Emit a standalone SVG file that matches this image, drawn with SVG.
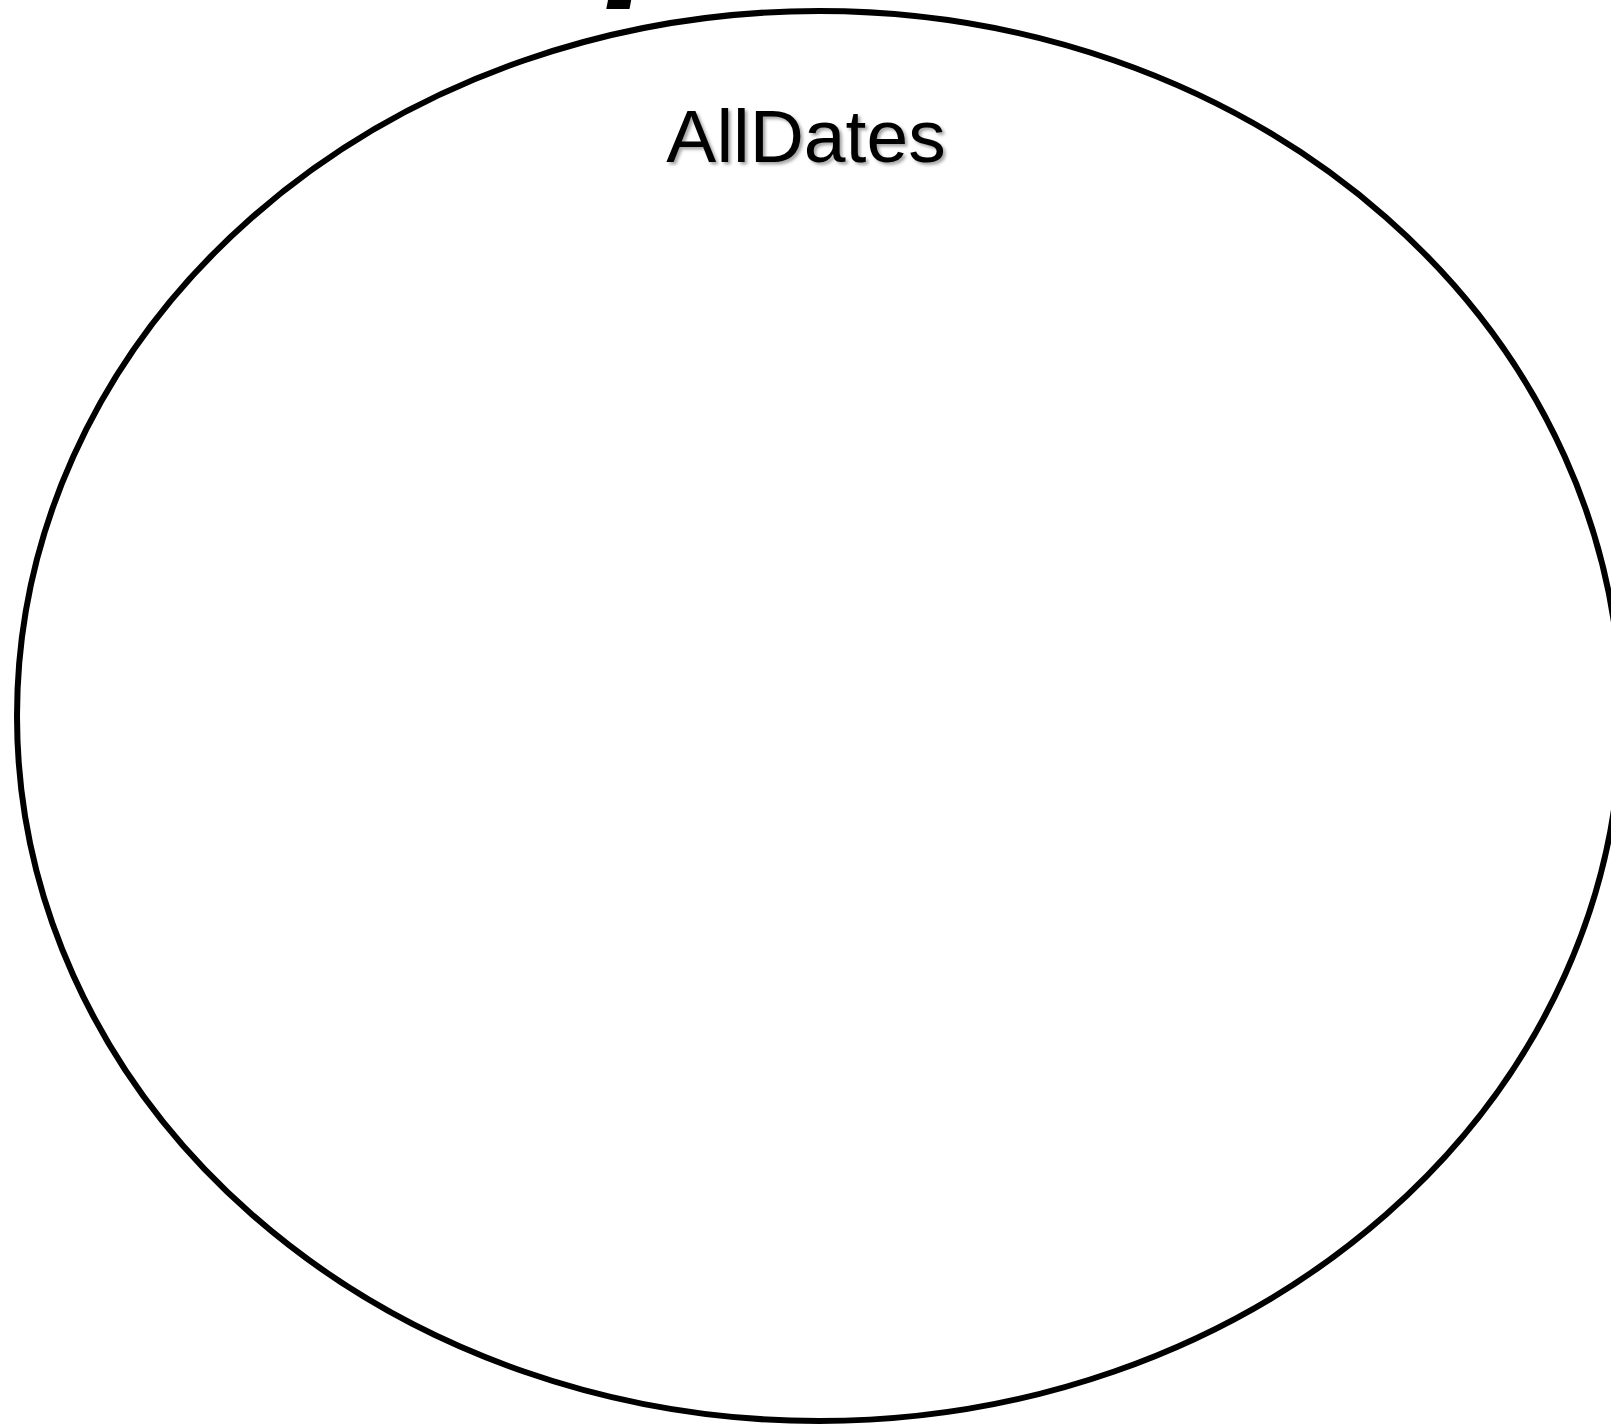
<svg xmlns="http://www.w3.org/2000/svg" width="1611" height="1424" viewBox="0 0 1611 1424">
<defs>
<style>
.set{fill:none;stroke:#000;stroke-width:6}
.lbl{font-family:"Liberation Sans",Arial,sans-serif;font-size:75px;fill:#000}
.title{font-family:"Liberation Sans",Arial,sans-serif;font-size:170px;font-weight:bold;font-style:italic;fill:#000}
</style>
<filter id="sh" x="-10%" y="-20%" width="130%" height="150%">
<feDropShadow dx="2.5" dy="2.5" stdDeviation="1.5" flood-color="#000" flood-opacity="0.35"/>
</filter>
</defs>
<rect width="1611" height="1424" fill="#fff"/>
<text class="title" x="610" y="-26">p</text>
<g id="AllDates">
<ellipse class="set" cx="819" cy="716" rx="802" ry="705"/>
<text class="lbl" x="806" y="162" text-anchor="middle" filter="url(#sh)">AllDates</text>
</g>
<g id="connectors"></g>
</svg>
